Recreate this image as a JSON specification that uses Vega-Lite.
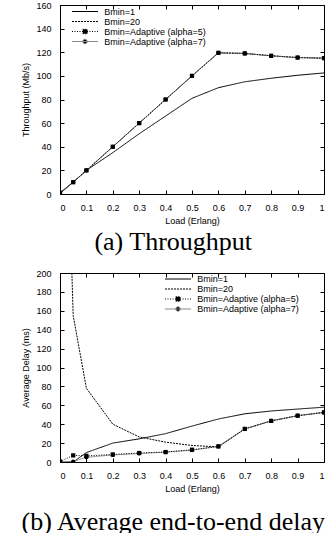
{
  "$schema": "https://vega.github.io/schema/vega-lite/v6.json",
  "padding": {"left": 20, "top": 0, "right": 0, "bottom": 0},
  "spacing": 12,
  "config": {
    "view": {"stroke": "black", "strokeWidth": 1},
    "axis": {"grid": false, "domainColor": "black", "tickColor": "black", "labelColor": "black", "titleColor": "black", "labelFont": "Liberation Sans", "titleFont": "Liberation Sans", "labelFontSize": 9, "titleFontSize": 9, "titleFontWeight": "normal", "tickSize": -4, "labelPadding": 13},
    "title": {"font": "Liberation Serif", "fontSize": 26, "fontWeight": "normal", "color": "black", "orient": "bottom", "anchor": "middle", "frame": "bounds"},
    "legend": {"orient": "none", "padding": 0, "title": null, "labelFont": "Liberation Sans", "labelFontSize": 9, "labelColor": "black", "symbolSize": 42.25, "labelOffset": 14.75, "rowPadding": -2, "symbolStrokeWidth": 1}
  },
  "resolve": {"scale": {"stroke": "independent", "strokeDash": "independent", "shape": "independent"}, "legend": {"stroke": "independent", "strokeDash": "independent"}},
  "datasets": {
    "thr": [
      {"load": 0, "series": "Bmin=1", "v": 0.5}, {"load": 0.05, "series": "Bmin=1", "v": 10}, {"load": 0.1, "series": "Bmin=1", "v": 20}, {"load": 0.2, "series": "Bmin=1", "v": 35}, {"load": 0.3, "series": "Bmin=1", "v": 51}, {"load": 0.4, "series": "Bmin=1", "v": 66}, {"load": 0.5, "series": "Bmin=1", "v": 81}, {"load": 0.6, "series": "Bmin=1", "v": 90}, {"load": 0.7, "series": "Bmin=1", "v": 95}, {"load": 0.8, "series": "Bmin=1", "v": 98}, {"load": 0.9, "series": "Bmin=1", "v": 100.5}, {"load": 1, "series": "Bmin=1", "v": 102.5},
      {"load": 0, "series": "Bmin=20", "v": 1}, {"load": 0.05, "series": "Bmin=20", "v": 10}, {"load": 0.1, "series": "Bmin=20", "v": 20}, {"load": 0.2, "series": "Bmin=20", "v": 40}, {"load": 0.3, "series": "Bmin=20", "v": 60}, {"load": 0.4, "series": "Bmin=20", "v": 80}, {"load": 0.5, "series": "Bmin=20", "v": 100}, {"load": 0.6, "series": "Bmin=20", "v": 119.5}, {"load": 0.7, "series": "Bmin=20", "v": 119}, {"load": 0.8, "series": "Bmin=20", "v": 117}, {"load": 0.9, "series": "Bmin=20", "v": 115.5}, {"load": 1, "series": "Bmin=20", "v": 115},
      {"load": 0, "series": "Bmin=Adaptive (alpha=7)", "v": 1}, {"load": 0.05, "series": "Bmin=Adaptive (alpha=7)", "v": 10}, {"load": 0.1, "series": "Bmin=Adaptive (alpha=7)", "v": 20}, {"load": 0.2, "series": "Bmin=Adaptive (alpha=7)", "v": 40}, {"load": 0.3, "series": "Bmin=Adaptive (alpha=7)", "v": 60}, {"load": 0.4, "series": "Bmin=Adaptive (alpha=7)", "v": 80}, {"load": 0.5, "series": "Bmin=Adaptive (alpha=7)", "v": 100}, {"load": 0.6, "series": "Bmin=Adaptive (alpha=7)", "v": 119.5}, {"load": 0.7, "series": "Bmin=Adaptive (alpha=7)", "v": 119}, {"load": 0.8, "series": "Bmin=Adaptive (alpha=7)", "v": 117}, {"load": 0.9, "series": "Bmin=Adaptive (alpha=7)", "v": 115.5}, {"load": 1, "series": "Bmin=Adaptive (alpha=7)", "v": 115},
      {"load": 0, "series": "Bmin=Adaptive (alpha=5)", "v": 1}, {"load": 0.05, "series": "Bmin=Adaptive (alpha=5)", "v": 10}, {"load": 0.1, "series": "Bmin=Adaptive (alpha=5)", "v": 20}, {"load": 0.2, "series": "Bmin=Adaptive (alpha=5)", "v": 40}, {"load": 0.3, "series": "Bmin=Adaptive (alpha=5)", "v": 60}, {"load": 0.4, "series": "Bmin=Adaptive (alpha=5)", "v": 80}, {"load": 0.5, "series": "Bmin=Adaptive (alpha=5)", "v": 100}, {"load": 0.6, "series": "Bmin=Adaptive (alpha=5)", "v": 119.5}, {"load": 0.7, "series": "Bmin=Adaptive (alpha=5)", "v": 119}, {"load": 0.8, "series": "Bmin=Adaptive (alpha=5)", "v": 117}, {"load": 0.9, "series": "Bmin=Adaptive (alpha=5)", "v": 115.5}, {"load": 1, "series": "Bmin=Adaptive (alpha=5)", "v": 115}
    ],
    "delay": [
      {"load": 0, "series": "Bmin=1", "v": 0}, {"load": 0.05, "series": "Bmin=1", "v": 0}, {"load": 0.1, "series": "Bmin=1", "v": 10}, {"load": 0.2, "series": "Bmin=1", "v": 20}, {"load": 0.3, "series": "Bmin=1", "v": 24.5}, {"load": 0.4, "series": "Bmin=1", "v": 30}, {"load": 0.5, "series": "Bmin=1", "v": 38}, {"load": 0.6, "series": "Bmin=1", "v": 45.5}, {"load": 0.7, "series": "Bmin=1", "v": 51}, {"load": 0.8, "series": "Bmin=1", "v": 54}, {"load": 0.9, "series": "Bmin=1", "v": 56}, {"load": 1, "series": "Bmin=1", "v": 58},
      {"load": 0, "series": "Bmin=20", "v": 600}, {"load": 0.05, "series": "Bmin=20", "v": 155}, {"load": 0.1, "series": "Bmin=20", "v": 78}, {"load": 0.2, "series": "Bmin=20", "v": 40}, {"load": 0.3, "series": "Bmin=20", "v": 26.5}, {"load": 0.4, "series": "Bmin=20", "v": 21}, {"load": 0.5, "series": "Bmin=20", "v": 17.5}, {"load": 0.6, "series": "Bmin=20", "v": 16}, {"load": 0.7, "series": "Bmin=20", "v": 35}, {"load": 0.8, "series": "Bmin=20", "v": 43.5}, {"load": 0.9, "series": "Bmin=20", "v": 49}, {"load": 1, "series": "Bmin=20", "v": 52.5},
      {"load": 0, "series": "Bmin=Adaptive (alpha=7)", "v": 0.5}, {"load": 0.05, "series": "Bmin=Adaptive (alpha=7)", "v": 0.5}, {"load": 0.1, "series": "Bmin=Adaptive (alpha=7)", "v": 5}, {"load": 0.2, "series": "Bmin=Adaptive (alpha=7)", "v": 7.5}, {"load": 0.3, "series": "Bmin=Adaptive (alpha=7)", "v": 9}, {"load": 0.4, "series": "Bmin=Adaptive (alpha=7)", "v": 10.5}, {"load": 0.5, "series": "Bmin=Adaptive (alpha=7)", "v": 12.5}, {"load": 0.6, "series": "Bmin=Adaptive (alpha=7)", "v": 16.5}, {"load": 0.7, "series": "Bmin=Adaptive (alpha=7)", "v": 35}, {"load": 0.8, "series": "Bmin=Adaptive (alpha=7)", "v": 43.5}, {"load": 0.9, "series": "Bmin=Adaptive (alpha=7)", "v": 49}, {"load": 1, "series": "Bmin=Adaptive (alpha=7)", "v": 52.5},
      {"load": 0, "series": "Bmin=Adaptive (alpha=5)", "v": 0.5}, {"load": 0.05, "series": "Bmin=Adaptive (alpha=5)", "v": 7}, {"load": 0.1, "series": "Bmin=Adaptive (alpha=5)", "v": 6.5}, {"load": 0.2, "series": "Bmin=Adaptive (alpha=5)", "v": 8}, {"load": 0.3, "series": "Bmin=Adaptive (alpha=5)", "v": 9.5}, {"load": 0.4, "series": "Bmin=Adaptive (alpha=5)", "v": 10.5}, {"load": 0.5, "series": "Bmin=Adaptive (alpha=5)", "v": 13}, {"load": 0.6, "series": "Bmin=Adaptive (alpha=5)", "v": 16.5}, {"load": 0.7, "series": "Bmin=Adaptive (alpha=5)", "v": 35}, {"load": 0.8, "series": "Bmin=Adaptive (alpha=5)", "v": 43.5}, {"load": 0.9, "series": "Bmin=Adaptive (alpha=5)", "v": 49}, {"load": 1, "series": "Bmin=Adaptive (alpha=5)", "v": 52.5}
    ]
  },
  "vconcat": [
    {
      "width": 264, "height": 189,
      "data": {"name": "thr"},
      "title": {"text": "(a) Throughput", "offset": 4},
      "resolve": {"axis": {"x": "independent", "y": "independent"}},
      "layer": [
        {
          "mark": {"type": "line", "clip": true, "strokeWidth": 1},
          "encoding": {
            "x": {"field": "load", "type": "quantitative", "scale": {"domain": [0, 1], "nice": false}, "axis": {"title": "Load (Erlang)", "values": [0, 0.1, 0.2, 0.3, 0.4, 0.5, 0.6, 0.7, 0.8, 0.9, 1], "format": ".1~f"}},
            "y": {"field": "v", "type": "quantitative", "scale": {"domain": [0, 160], "nice": false}, "axis": {"title": "Throughput (Mb/s)", "values": [0, 20, 40, 60, 80, 100, 120, 140, 160], "titlePadding": 5}},
            "stroke": {"field": "series", "type": "nominal", "scale": {"domain": ["Bmin=1", "Bmin=20", "Bmin=Adaptive (alpha=5)", "Bmin=Adaptive (alpha=7)"], "range": ["black", "black", "black", "#888888"]},
              "legend": {"legendX": 20.5, "legendY": 2, "encode": {"symbols": {"update": {
                "shape": {"signal": "datum.value == 'Bmin=Adaptive (alpha=5)' ? 'M-4,0H4M-0.68,-0.68H0.68V0.68H-0.68Z' : datum.value == 'Bmin=Adaptive (alpha=7)' ? 'M-4,0H4M0.68,0A0.68,0.68,0,1,1,-0.68,0A0.68,0.68,0,1,1,0.68,0Z' : 'M-4,0H4'"},
                "fill": {"signal": "indexof(datum.value, 'Adaptive') >= 0 ? 'black' : 'transparent'"}}}}}},
            "strokeDash": {"field": "series", "type": "nominal", "scale": {"domain": ["Bmin=1", "Bmin=20", "Bmin=Adaptive (alpha=5)", "Bmin=Adaptive (alpha=7)"], "range": [[1, 0], [2, 1], [1, 1.5], [1, 0]]}}
          }
        },
        {
          "transform": [{"filter": "indexof(datum.series, 'Adaptive') >= 0"}],
          "mark": {"type": "point", "filled": true, "size": 18, "opacity": 1, "color": "black", "clip": true},
          "encoding": {
            "x": {"field": "load", "type": "quantitative", "axis": {"orient": "top", "labels": false, "title": null, "domain": false, "values": [0, 0.1, 0.2, 0.3, 0.4, 0.5, 0.6, 0.7, 0.8, 0.9, 1]}},
            "y": {"field": "v", "type": "quantitative", "axis": {"orient": "right", "labels": false, "title": null, "domain": false, "values": [0, 20, 40, 60, 80, 100, 120, 140, 160]}},
            "shape": {"field": "series", "type": "nominal", "scale": {"domain": ["Bmin=Adaptive (alpha=5)", "Bmin=Adaptive (alpha=7)"], "range": ["square", "circle"]}, "legend": null}
          }
        }
      ]
    },
    {
      "width": 264, "height": 189,
      "data": {"name": "delay"},
      "title": {"text": "(b) Average end-to-end delay", "offset": 16},
      "resolve": {"axis": {"x": "independent", "y": "independent"}},
      "layer": [
        {
          "mark": {"type": "line", "clip": true, "strokeWidth": 1},
          "encoding": {
            "x": {"field": "load", "type": "quantitative", "scale": {"domain": [0, 1], "nice": false}, "axis": {"title": "Load (Erlang)", "values": [0, 0.1, 0.2, 0.3, 0.4, 0.5, 0.6, 0.7, 0.8, 0.9, 1], "format": ".1~f"}},
            "y": {"field": "v", "type": "quantitative", "scale": {"domain": [0, 200], "nice": false}, "axis": {"title": "Average Delay (ms)", "values": [0, 20, 40, 60, 80, 100, 120, 140, 160, 180, 200], "titlePadding": 5}},
            "stroke": {"field": "series", "type": "nominal", "scale": {"domain": ["Bmin=1", "Bmin=20", "Bmin=Adaptive (alpha=5)", "Bmin=Adaptive (alpha=7)"], "range": ["black", "black", "black", "#888888"]},
              "legend": {"legendX": 113.5, "legendY": 1.5, "encode": {"symbols": {"update": {
                "shape": {"signal": "datum.value == 'Bmin=Adaptive (alpha=5)' ? 'M-4,0H4M-0.68,-0.68H0.68V0.68H-0.68Z' : datum.value == 'Bmin=Adaptive (alpha=7)' ? 'M-4,0H4M0.68,0A0.68,0.68,0,1,1,-0.68,0A0.68,0.68,0,1,1,0.68,0Z' : 'M-4,0H4'"},
                "fill": {"signal": "indexof(datum.value, 'Adaptive') >= 0 ? 'black' : 'transparent'"}}}}}},
            "strokeDash": {"field": "series", "type": "nominal", "scale": {"domain": ["Bmin=1", "Bmin=20", "Bmin=Adaptive (alpha=5)", "Bmin=Adaptive (alpha=7)"], "range": [[1, 0], [2, 1], [1, 1.5], [1, 0]]}}
          }
        },
        {
          "transform": [{"filter": "indexof(datum.series, 'Adaptive') >= 0"}],
          "mark": {"type": "point", "filled": true, "size": 18, "opacity": 1, "color": "black", "clip": true},
          "encoding": {
            "x": {"field": "load", "type": "quantitative", "axis": {"orient": "top", "labels": false, "title": null, "domain": false, "values": [0, 0.1, 0.2, 0.3, 0.4, 0.5, 0.6, 0.7, 0.8, 0.9, 1]}},
            "y": {"field": "v", "type": "quantitative", "axis": {"orient": "right", "labels": false, "title": null, "domain": false, "values": [0, 20, 40, 60, 80, 100, 120, 140, 160, 180, 200]}},
            "shape": {"field": "series", "type": "nominal", "scale": {"domain": ["Bmin=Adaptive (alpha=5)", "Bmin=Adaptive (alpha=7)"], "range": ["square", "circle"]}, "legend": null}
          }
        }
      ]
    }
  ]
}
